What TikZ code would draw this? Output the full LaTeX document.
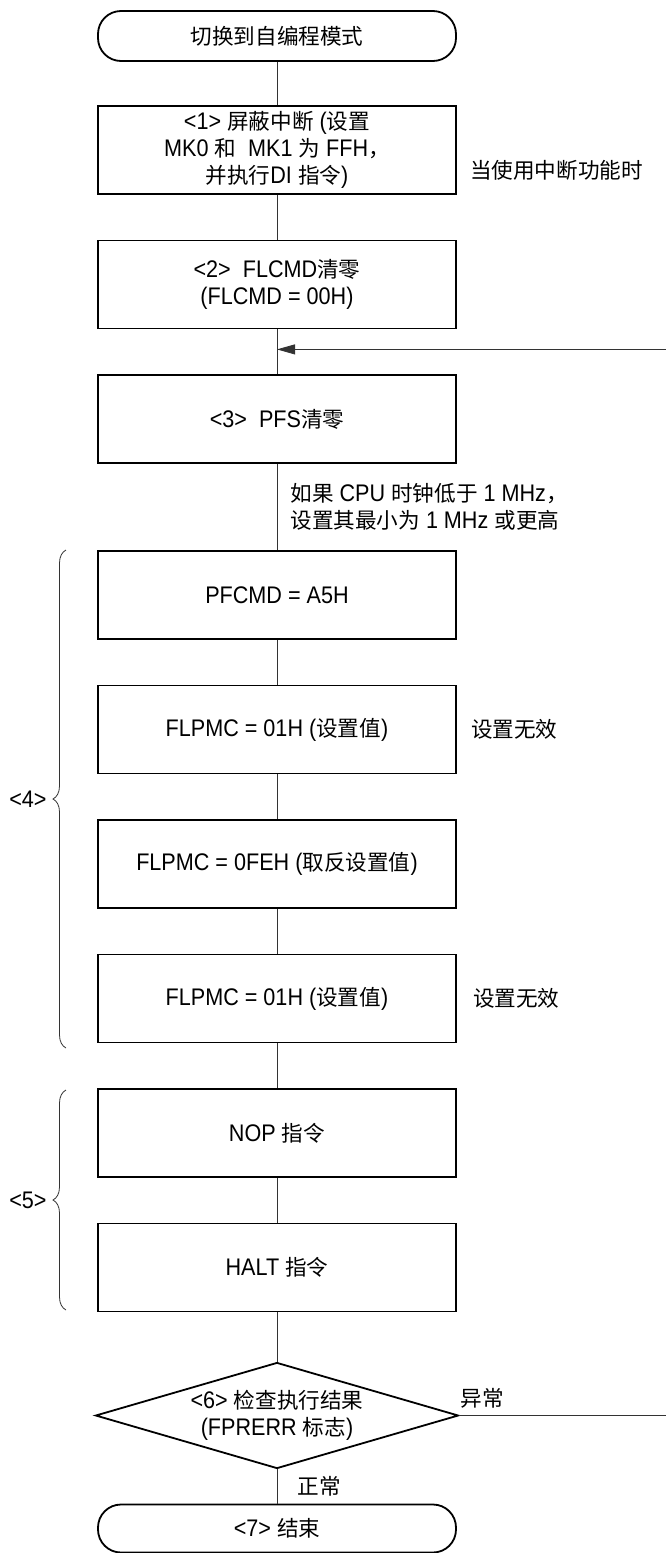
\documentclass[tikz,border=0pt]{standalone}
\usepackage{fontspec}
\setmainfont{Liberation Sans}[FakeStretch=0.9]
\newfontfamily\zhfont{Noto Sans CJK SC}[Scale=0.9]
\newcommand{\zh}[1]{{\zhfont #1}}
\usetikzlibrary{shapes.geometric,positioning,arrows.meta,decorations.pathreplacing}

\begin{document}
\begin{tikzpicture}[x=1pt, y=-1pt, node distance=134.5pt,
    every node/.style={font=\fontsize{24}{27}\selectfont},
    stepbox/.style={rectangle, draw, line width=1.8pt, minimum width=358pt, minimum height=88pt, align=center},
    termbox/.style={rectangle, rounded corners=23pt, draw, line width=1.8pt, minimum width=358pt, minimum height=50pt},
    checkbox/.style={diamond, draw, line width=1.8pt, aspect=3.4, inner sep=0pt, minimum width=363pt, minimum height=106pt, align=center},
    notetext/.style={inner sep=0pt, align=left},
    flow/.style={draw=black!80, line width=0.8pt},
    bracket/.style={draw=black!80, line width=0.8pt, decorate, decoration={brace, amplitude=13pt}}]
    \useasboundingbox (0,0) rectangle (665,1553);
    \node[termbox] (start) at (277,36) {\zh{切换到自编程模式}};
    \node[stepbox, below of=start, node distance=114pt] (mask) {<1> \zh{屏蔽中断} (\zh{设置}\\ MK0 \zh{和}\ \ MK1 \zh{为} FFH\zh{，}\\ \zh{并执行}DI \zh{指令})};
    \node[stepbox, below of=mask] (flcmd) {<2>\ \ FLCMD\zh{清零}\\(FLCMD = 00H)};
    \node[stepbox, below of=flcmd] (pfs) {<3>\ \ PFS\zh{清零}};
    \node[stepbox, below of=pfs, node distance=176pt] (pfcmd) {PFCMD = A5H};
    \node[stepbox, below of=pfcmd] (setv) {FLPMC = 01H (\zh{设置值})};
    \node[stepbox, below of=setv] (invv) {FLPMC = 0FEH (\zh{取反设置值})};
    \node[stepbox, below of=invv] (setw) {FLPMC = 01H (\zh{设置值})};
    \node[stepbox, below of=setw] (nop) {NOP \zh{指令}};
    \node[stepbox, below of=nop] (halt) {HALT \zh{指令}};
    \node[checkbox, below of=halt, node distance=148pt] (chk) {<6> \zh{检查执行结果}\\(FPRERR \zh{标志})};
    \node[termbox, below of=chk, node distance=113pt, minimum height=48pt] (fin) {<7> \zh{结束}};

    \node[notetext, right=13pt of mask, yshift=-20pt] (intnote) {\zh{当使用中断功能时}};
    \node[notetext, right=14pt of setv] (void1) {\zh{设置无效}};
    \node[notetext, right=16pt of setw] (void2) {\zh{设置无效}};

    \coordinate (join) at ([yshift=-20pt]flcmd.south);
    \foreach \a/\b in {start/mask, mask/flcmd, flcmd/pfs, pfcmd/setv, setv/invv, invv/setw, setw/nop, nop/halt, halt/chk}
        \draw[flow] (\a) -- (\b);
    \draw[flow] (pfs) -- node[notetext, right=13pt] {\zh{如果} CPU \zh{时钟低于} 1 MHz\zh{，}\\\zh{设置其最小为} 1 MHz \zh{或更高}} (pfcmd);
    \draw[flow] (chk) -- node[notetext, right=20pt] {\zh{正常}} (fin);
    \draw[flow, -{Triangle[length=18pt, width=10pt]}] (chk.east) -- node[notetext, pos=0.11, above=7pt] {\zh{异常}} ++(210,0) |- (join);

    \draw[bracket] (66,1048) -- (66,550) node[midway, notetext, left=19pt] {<4>};
    \draw[bracket] (66,1310) -- (66,1090) node[midway, notetext, left=19pt] {<5>};
\end{tikzpicture}
\end{document}
